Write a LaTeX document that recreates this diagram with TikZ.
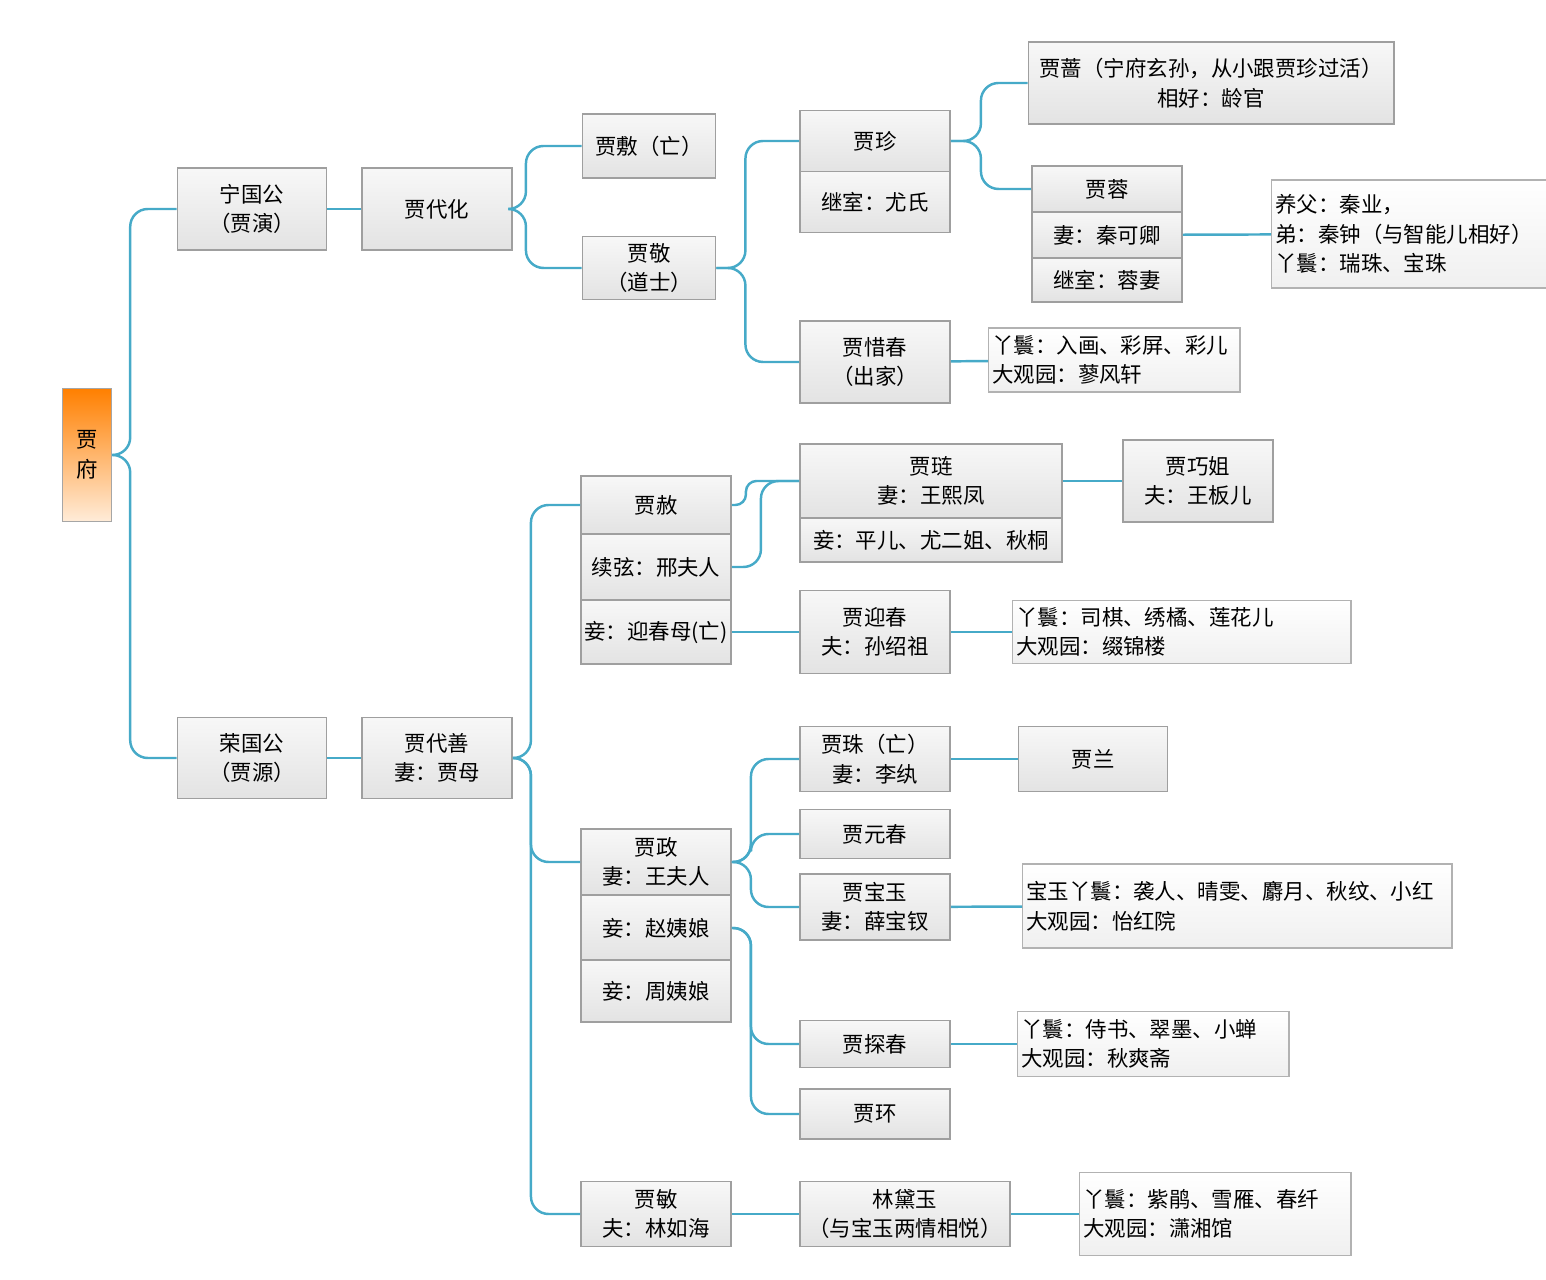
\documentclass[tikz,border=0pt]{standalone}
\usepackage{fontspec}
\setmainfont{Noto Sans CJK SC}
\definecolor{linkblue}{RGB}{70,170,200}
\begin{document}
\begin{tikzpicture}[x=0.01cm,y=-0.01cm,
  font=\fontsize{6.1}{8.4}\selectfont,
  box/.style={draw=gray!75,top color=gray!6,bottom color=gray!22,align=center,inner sep=0.5pt,line width=0.5pt},
  note/.style={draw=gray!60,top color=white,bottom color=gray!12,align=left,inner sep=1pt,anchor=west,line width=0.4pt},
  link/.style={draw=linkblue,line width=0.7pt,rounded corners=5pt}]
\useasboundingbox (0,0) rectangle (1546,1280);
% root
\node[draw=gray!70,top color=orange,bottom color=orange!15,minimum width=0.49cm,minimum height=1.33cm,align=center] (root) at (87,455) {贾\\府};
% Ning branch
\node[box,minimum width=1.49cm,minimum height=0.82cm] (ning) at (252,209) {宁国公\\（贾演）};
\node[box,minimum width=1.5cm,minimum height=0.82cm] (daihua) at (437,209) {贾代化};
\node[box,minimum width=1.33cm,minimum height=0.64cm] (fu) at (649,146) {贾敷（亡）};
\node[box,minimum width=1.33cm,minimum height=0.63cm] (jing) at (649,268) {贾敬\\（道士）};
\node[box,minimum width=1.5cm,minimum height=0.61cm] (zhen1) at (875,141) {贾珍};
\node[box,minimum width=1.5cm,minimum height=0.61cm] (zhen2) at (875,202) {继室：尤氏};
\node[box,minimum width=3.65cm,minimum height=0.82cm] (qiang) at (1211,83) {贾蔷（宁府玄孙，从小跟贾珍过活）\\相好：龄官};
\node[box,minimum width=1.5cm,minimum height=0.46cm] (rong1) at (1107,189) {贾蓉};
\node[box,minimum width=1.5cm,minimum height=0.46cm] (rong2) at (1107,235) {妻：秦可卿};
\node[box,minimum width=1.5cm,minimum height=0.44cm] (rong3) at (1107,280) {继室：蓉妻};
\node[note,text width=2.7cm,minimum height=1.08cm] (rongnote) at (1271,234) {养父：秦业，\\弟：秦钟（与智能儿相好）\\丫鬟：瑞珠、宝珠};
\node[box,minimum width=1.5cm,minimum height=0.82cm] (xichun) at (875,362) {贾惜春\\（出家）};
\node[note,text width=2.44cm,minimum height=0.64cm] (xinote) at (988,360) {丫鬟：入画、彩屏、彩儿\\大观园：蓼风轩};
% Rong branch
\node[box,minimum width=1.49cm,minimum height=0.81cm] (rongguo) at (252,758) {荣国公\\（贾源）};
\node[box,minimum width=1.5cm,minimum height=0.81cm] (daishan) at (437,758) {贾代善\\妻：贾母};
\node[box,minimum width=1.5cm,minimum height=0.58cm] (she1) at (656,505) {贾赦};
\node[box,minimum width=1.5cm,minimum height=0.66cm] (she2) at (656,567) {续弦：邢夫人};
\node[box,minimum width=1.5cm,minimum height=0.64cm] (she3) at (656,632) {妾：迎春母(亡)};
\node[box,minimum width=2.62cm,minimum height=0.74cm] (lian1) at (931,481) {贾琏\\妻：王熙凤};
\node[box,minimum width=2.62cm,minimum height=0.44cm] (lian2) at (931,540) {妾：平儿、尤二姐、秋桐};
\node[box,minimum width=1.5cm,minimum height=0.82cm] (qiaojie) at (1198,481) {贾巧姐\\夫：王板儿};
\node[box,minimum width=1.5cm,minimum height=0.83cm] (yingchun) at (875,632) {贾迎春\\夫：孙绍祖};
\node[note,text width=3.31cm,minimum height=0.63cm] (yingnote) at (1012,632) {丫鬟：司棋、绣橘、莲花儿\\大观园：缀锦楼};
\node[box,minimum width=1.5cm,minimum height=0.66cm] (zheng1) at (656,862) {贾政\\妻：王夫人};
\node[box,minimum width=1.5cm,minimum height=0.65cm] (zheng2) at (656,928) {妾：赵姨娘};
\node[box,minimum width=1.5cm,minimum height=0.62cm] (zheng3) at (656,991) {妾：周姨娘};
\node[box,minimum width=1.5cm,minimum height=0.65cm] (zhu) at (875,759) {贾珠（亡）\\妻：李纨};
\node[box,minimum width=1.49cm,minimum height=0.65cm] (lan) at (1093,759) {贾兰};
\node[box,minimum width=1.5cm,minimum height=0.49cm] (yuanchun) at (875,834) {贾元春};
\node[box,minimum width=1.5cm,minimum height=0.66cm] (baoyu) at (875,907) {贾宝玉\\妻：薛宝钗};
\node[note,text width=4.22cm,minimum height=0.84cm] (baonote) at (1022,906) {宝玉丫鬟：袭人、晴雯、麝月、秋纹、小红\\大观园：怡红院};
\node[box,minimum width=1.5cm,minimum height=0.47cm] (tanchun) at (875,1044) {贾探春};
\node[note,text width=2.64cm,minimum height=0.65cm] (tannote) at (1017,1044) {丫鬟：侍书、翠墨、小蝉\\大观园：秋爽斋};
\node[box,minimum width=1.5cm,minimum height=0.5cm] (huan) at (875,1114) {贾环};
\node[box,minimum width=1.5cm,minimum height=0.65cm] (min) at (656,1214) {贾敏\\夫：林如海};
\node[box,minimum width=2.1cm,minimum height=0.65cm] (daiyu) at (905,1214) {林黛玉\\（与宝玉两情相悦）};
\node[note,text width=2.64cm,minimum height=0.83cm] (dainote) at (1079,1214) {丫鬟：紫鹃、雪雁、春纤\\大观园：潇湘馆};
% connectors
\draw[link] (root.east) -- ++(18,0) |- (ning.west);
\draw[link] (root.east) -- ++(18,0) |- (rongguo.west);
\draw[link] (ning) -- (daihua);
\draw[link] (daihua.east) -- ++(13,0) |- (fu.west);
\draw[link] (daihua.east) -- ++(13,0) |- (jing.west);
\draw[link] (jing.east) -- ++(29,0) |- (zhen1.west);
\draw[link] (jing.east) -- ++(29,0) |- (xichun.west);
\draw[link] (zhen1.east) -- ++(30,0) |- (qiang.west);
\draw[link] (zhen1.east) -- ++(30,0) |- (rong1.west);
\draw[link] (rong2) -- (rongnote);
\draw[link] (xichun) -- (xinote);
\draw[link] (rongguo) -- (daishan);
\draw[link] (daishan.east) -- ++(18,0) |- (she1.west);
\draw[link] (daishan.east) -- ++(18,0) |- (zheng1.west);
\draw[link] (daishan.east) -- ++(18,0) |- (min.west);
\draw[link,rounded corners=3pt] (she1.east) -- ++(14,0) |- (lian1.west);
\draw[link] (she2.east) -- ++(29,0) |- (lian1.west);
\draw[link] (lian1) -- (qiaojie);
\draw[link] (she3) -- (yingchun);
\draw[link] (yingchun) -- (yingnote);
\draw[link] (zheng1.east) -- ++(19,0) |- (zhu.west);
\draw[link] (zheng1.east) -- ++(19,0) |- (yuanchun.west);
\draw[link] (zheng1.east) -- ++(19,0) |- (baoyu.west);
\draw[link] (zhu) -- (lan);
\draw[link] (baoyu) -- (baonote);
\draw[link] (zheng2.east) -- ++(19,0) |- (tanchun.west);
\draw[link] (zheng2.east) -- ++(19,0) |- (huan.west);
\draw[link] (tanchun) -- (tannote);
\draw[link] (min) -- (daiyu);
\draw[link] (daiyu) -- (dainote);
\end{tikzpicture}
\end{document}
